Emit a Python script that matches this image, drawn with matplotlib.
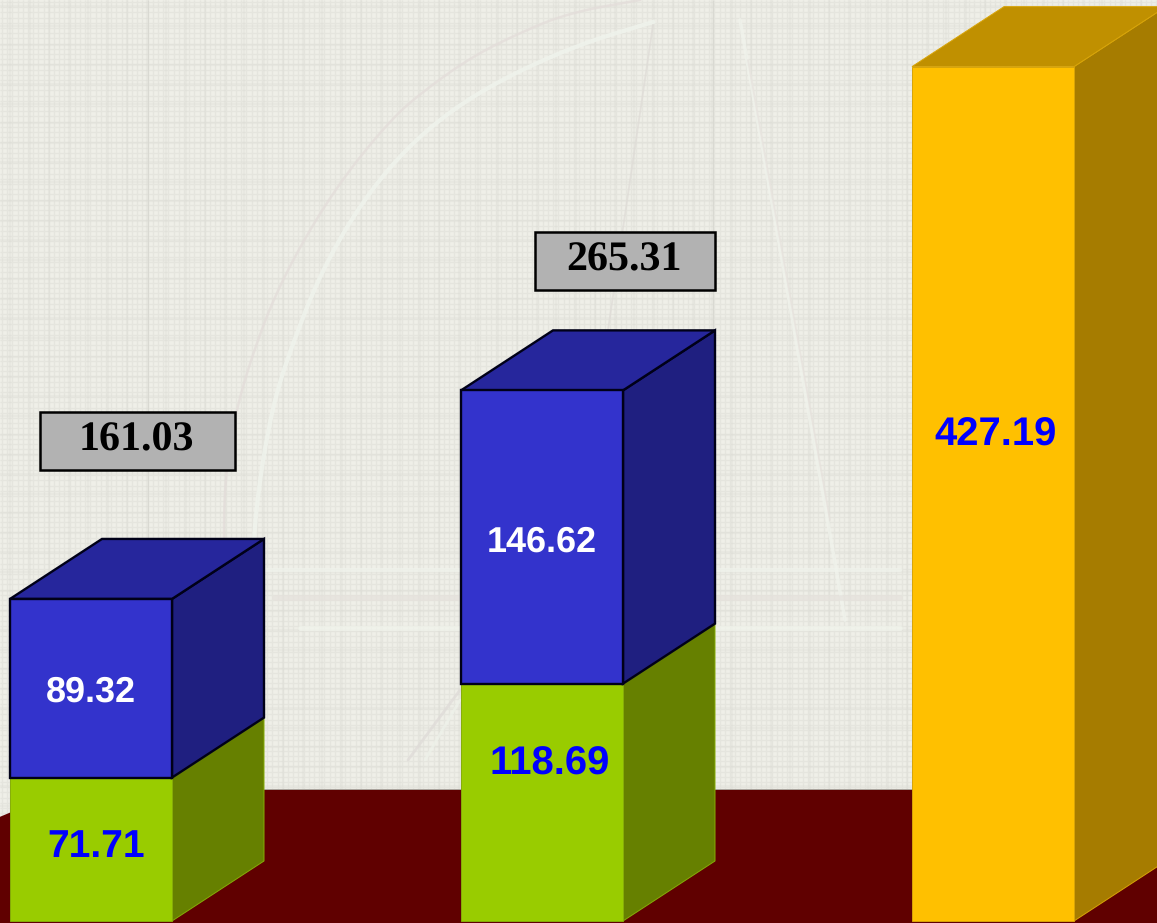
import numpy as np
import matplotlib
matplotlib.use("Agg")
import matplotlib.pyplot as plt
from matplotlib.patches import Polygon, Rectangle

plt.rcParams["text.hinting"] = "no_hinting"
plt.rcParams["text.hinting_factor"] = 1

# values
groups = ["a", "b", "c"]
green_vals = [71.71, 118.69, 0]
blue_vals = [89.32, 146.62, 0]
yellow_vals = [0, 0, 427.19]
totals = [161.03, 265.31]

W, H = 1157, 923
BASE_PX = 921          # pixel row of value 0
PX_PER_UNIT = 2.0
bar_left = [10, 461, 912]
BAR_W = 162
DX, DY = 92, 30        # depth of the boxes (x in px, y in value units)


def smooth(pts, n=3):
    pts = np.array(pts, float)
    for _ in range(n):
        a, b = pts[:-1], pts[1:]
        pts = np.vstack([pts[:1], np.column_stack([0.75 * a + 0.25 * b, 0.25 * a + 0.75 * b]).reshape(-1, 2), pts[-1:]])
    return pts[:, 0], pts[:, 1]


fig = plt.figure(figsize=(W / 100, H / 100), dpi=100)

# ---- background, in pixel coordinates --------------------------------------
bg = fig.add_axes([0, 0, 1, 1], zorder=0)
bg.set_xlim(0, W)
bg.set_ylim(H, 0)
bg.axis("off")
bg.add_patch(Rectangle((0, 0), W, H, fc="#efefe8", ec="none"))
bg.vlines(np.arange(2, W, 5.2), 0, H, color="#e5e5de", lw=1.0)
bg.hlines(np.arange(2, H, 5.2), 0, W, color="#e5e5de", lw=1.0)
bg.vlines(np.arange(10, W, 19.5), 0, H, color="#dbdbd4", lw=1.6, alpha=0.35)
bg.hlines(np.arange(6, H, 19.5), 0, W, color="#ddddd6", lw=1.6, alpha=0.35)
bg.vlines([148, 713], 0, H, color="#d9d9d2", lw=0.8)

# faint watermark
white_arc = [(653, 22), (577, 45), (500, 80), (443, 116), (395, 160), (354, 214),
             (320, 275), (296, 335), (277, 390), (265, 446), (256, 510), (252, 570)]
pink_arc = [(640, 0), (568, 13), (515, 35), (470, 58), (425, 90), (390, 120), (332, 192),
            (278, 286), (247, 370), (232, 430), (224, 491), (224, 570)]
bg.plot(*smooth(white_arc), color="#f0f4ed", lw=3, alpha=0.8)
bg.plot(*smooth(pink_arc), color="#e3dcd9", lw=1.8, alpha=0.7)
for seg, col, lw in [([(653, 25), (608, 330)], "#dedbd6", 1.3),
                     ([(740, 20), (845, 620)], "#f1f4ed", 2.5),
                     ([(748, 60), (830, 520)], "#e6e1dc", 1.3),
                     ([(265, 570), (900, 570)], "#f1f4ed", 3),
                     ([(275, 598), (900, 598)], "#e5e1dc", 4),
                     ([(300, 628), (900, 628)], "#f2f5ed", 3.5),
                     ([(460, 690), (408, 760)], "#dedad7", 2),
                     ([(460, 700), (425, 760)], "#eef2ea", 2)]:
    bg.plot(*zip(*seg), color=col, lw=lw, alpha=0.7, solid_capstyle="round")

# ---- chart, y axis in value units ------------------------------------------
ax = fig.add_axes([0, 0, 1, 1], zorder=1)
ax.patch.set_alpha(0)
ax.set_xlim(0, W)
ax.set_ylim((BASE_PX - H) / PX_PER_UNIT, BASE_PX / PX_PER_UNIT)
ax.axis("off")

# floor
FLOOR_Y = (BASE_PX - 790) / PX_PER_UNIT
ax.plot([64, W], [FLOOR_Y, FLOOR_Y], color="#a9a39c", lw=2.2, zorder=1)
ax.add_patch(Polygon([(-10, -2), (-10, 50), (64, FLOOR_Y), (W + 5, FLOOR_Y), (W + 5, -2)],
                     fc="#600000", ec="none", zorder=2))


def box(x, y0, y1, front, top, side, ec, lw):
    """front, top and side faces of one 3d bar segment"""
    w = BAR_W
    ax.add_patch(Polygon([(x + w, y0), (x + w + DX, y0 + DY), (x + w + DX, y1 + DY), (x + w, y1)],
                         fc=side, ec=ec, lw=lw, joinstyle="miter", zorder=3))
    ax.add_patch(Polygon([(x, y1), (x + DX, y1 + DY), (x + w + DX, y1 + DY), (x + w, y1)],
                         fc=top, ec=ec, lw=lw, joinstyle="miter", zorder=3))
    ax.add_patch(Rectangle((x, y0), w, y1 - y0, fc=front, ec=ec, lw=lw, joinstyle="miter", zorder=3))


for i, x in enumerate(bar_left):
    g, b, y = green_vals[i], blue_vals[i], yellow_vals[i]
    if g:
        box(x, 0, g, "#99cc00", "#7aa300", "#668000", "#86ad08", 0.7)
    if b:
        box(x, g, g + b, "#3333cc", "#26269c", "#1f1f80", "#000018", 1.7)
    if y:
        box(x, 0, y, "#ffc000", "#c09000", "#a67c00", "#d8a408", 0.7)


def val_text(px, py, s, color, size):
    ax.text(px, (BASE_PX - py) / PX_PER_UNIT, s, color=color, fontsize=size, fontweight="bold",
            family="Liberation Sans", ha="center", va="center", zorder=5)


val_text(96, 847, f"{green_vals[0]:.2f}", "#0000ff", 28)
val_text(91, 692, f"{blue_vals[0]:.2f}", "white", 26)
val_text(550, 764, f"{green_vals[1]:.2f}", "#0000ff", 28.5)
val_text(542, 542, f"{blue_vals[1]:.2f}", "white", 26)
val_text(996, 435, f"{yellow_vals[2]:.2f}", "#0000ff", 28.5)

# totals in grey boxes
for (x0, x1, y0, y1), t in zip([(40, 235, 412, 470), (535, 715, 232, 290)], totals):
    bg_y = (BASE_PX - y1) / PX_PER_UNIT
    ax.add_patch(Rectangle((x0, bg_y), x1 - x0, (y1 - y0) / PX_PER_UNIT, fc="#b2b2b2", ec="black",
                           lw=1.8, zorder=4))
    ax.text((x0 + x1) / 2 - 1, bg_y + (y1 - y0) / PX_PER_UNIT / 2 + 0.5, f"{t:.2f}", color="black",
            fontsize=30.5, fontweight="bold", family="Liberation Serif", ha="center", va="center", zorder=5)

fig.savefig("out.png", dpi=100)
